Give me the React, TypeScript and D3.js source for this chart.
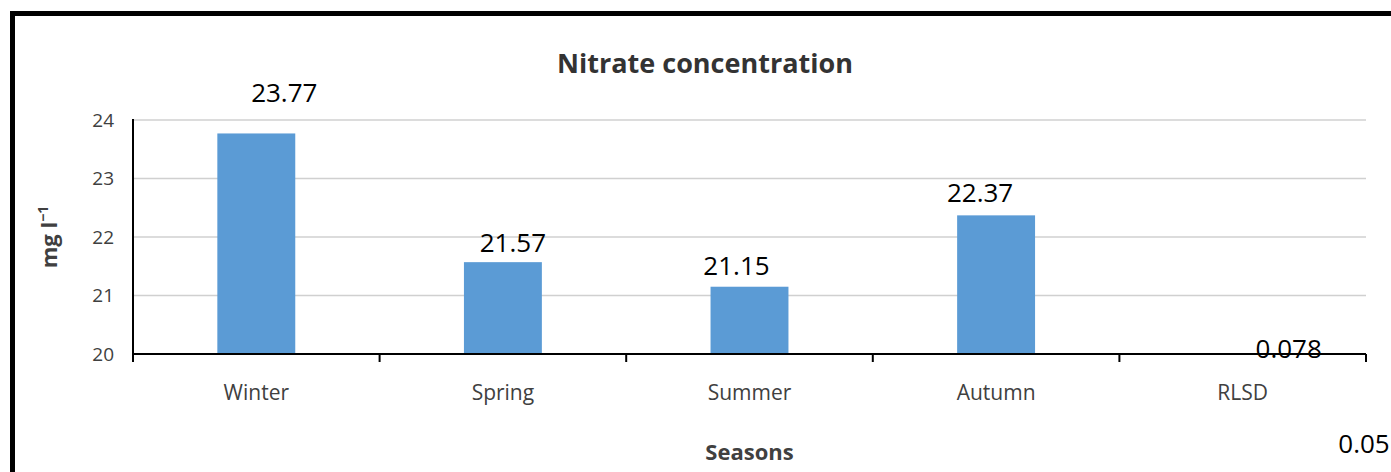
import React from 'react';
import * as d3 from 'd3';

const seasons = ['Winter', 'Spring', 'Summer', 'Autumn', 'RLSD'];
const nitrate = [23.77, 21.57, 21.15, 22.37, 0.078];
const valueLabels = ['23.77', '21.57', '21.15', '22.37', '0.078'];
const yTicks = [20, 21, 22, 23, 24];

// hand-placed label nudges, as in the source chart (dx from bar centre, dy above bar top)
const labelNudge = [
  { dx: 28, dy: 31 },
  { dx: 10, dy: 10 },
  { dx: -13, dy: 12 },
  { dx: -16, dy: 13 },
  { dx: 46, dy: -4 },
];

const W = 1391;
const H = 472;
const margin = { top: 120, right: 25, bottom: 118, left: 133 };
const font = '"Open Sans", "Liberation Sans", sans-serif';

const App: React.FC = () => {
  const x = d3.scaleBand<string>()
    .domain(seasons)
    .range([margin.left, W - margin.right])
    .padding(0);

  const xBar = d3.scaleBand<string>()
    .domain(seasons)
    .range([margin.left, W - margin.right])
    .paddingInner(0.684)
    .paddingOuter(0.342);

  const y = d3.scaleLinear()
    .domain([20, 24])
    .range([H - margin.bottom, margin.top]);

  const y0 = y(20);
  const boundaries = seasons.map(s => x(s) || 0).concat([W - margin.right]);

  return (
    <svg width={W} height={H} style={{ position: 'absolute', left: 0, top: 0 }}>
      <rect width={W} height={H} fill="#fff" />
      {/* frame */}
      <line x1={10} x2={W} y1={13.5} y2={13.5} stroke="#000" strokeWidth={5} />
      <line x1={12.5} x2={12.5} y1={11} y2={H} stroke="#000" strokeWidth={5} />

      <text x={705} y={73} textAnchor="middle" fontFamily={font} fontWeight="bold"
        fontSize={27} fill="#333">Nitrate concentration</text>

      {/* gridlines */}
      {yTicks.filter(t => t > 20).map(t => (
        <line key={t} x1={margin.left} x2={W - margin.right} y1={y(t)} y2={y(t)}
          stroke="#d0d0d0" strokeWidth={1.5} />
      ))}

      {/* bars */}
      {seasons.map((s, i) => nitrate[i] > 20 ? (
        <rect key={s} x={xBar(s)} y={y(nitrate[i])} width={xBar.bandwidth()}
          height={y0 - y(nitrate[i])} fill="#5B9BD5" />
      ) : null)}

      {/* axes */}
      <line x1={margin.left} x2={margin.left} y1={margin.top - 1} y2={y0 + 8} stroke="#000" strokeWidth={2} />
      <line x1={margin.left} x2={W - margin.right} y1={y0} y2={y0} stroke="#000" strokeWidth={2} />
      {boundaries.map((b, i) => (
        <line key={i} x1={b} x2={b} y1={y0} y2={y0 + 8} stroke="#000" strokeWidth={2} />
      ))}

      {yTicks.map(t => (
        <text key={t} x={margin.left - 19} y={y(t)} dy="0.35em" textAnchor="end"
          fontFamily={font} fontSize={19} fill="#404040">{t}</text>
      ))}

      {seasons.map(s => (
        <text key={s} x={(x(s) || 0) + x.bandwidth() / 2} y={400} textAnchor="middle"
          fontFamily={font} fontSize={21} fill="#404040">{s}</text>
      ))}

      {/* value labels */}
      {seasons.map((s, i) => (
        <text key={s} x={(xBar(s) || 0) + xBar.bandwidth() / 2 + labelNudge[i].dx}
          y={y(Math.max(nitrate[i], 20)) - labelNudge[i].dy} textAnchor="middle"
          fontFamily={font} fontSize={26} fill="#000">{valueLabels[i]}</text>
      ))}

      <text x={1364} y={453} textAnchor="middle" fontFamily={font} fontSize={26} fill="#000">0.05</text>

      <text x={(margin.left + W - margin.right) / 2} y={460} textAnchor="middle"
        fontFamily={font} fontWeight="bold" fontSize={22} fill="#404040">Seasons</text>

      <text transform={`translate(57,${(margin.top + y0) / 2}) rotate(-90)`} textAnchor="middle"
        fontFamily={font} fontWeight="bold" fontSize={22} fill="#404040">
        mg l<tspan dy={-9} fontSize={14}>−1</tspan>
      </text>
    </svg>
  );
};

export default App;
